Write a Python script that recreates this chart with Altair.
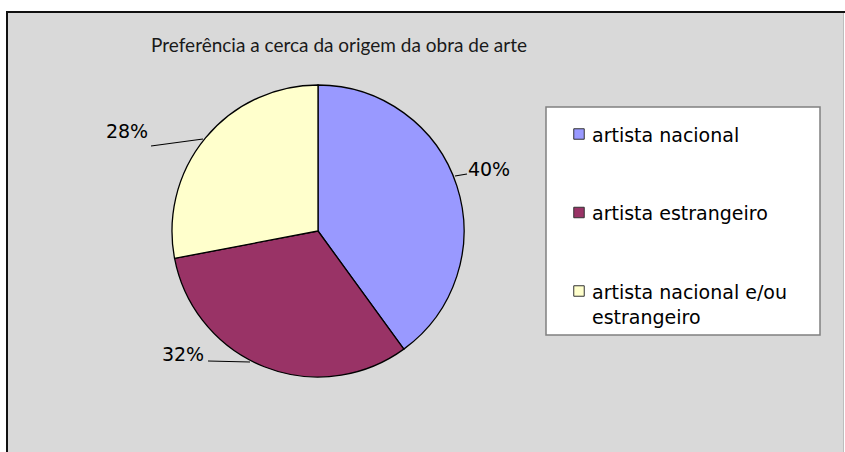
import altair as alt
import pandas as pd

# ---------------- data ----------------
categories = ["artista nacional", "artista estrangeiro", "artista nacional e/ou estrangeiro"]
values = [40, 32, 28]
legend_labels = ["artista nacional", "artista estrangeiro", "artista nacional e/ou\nestrangeiro"]
colors = ["#9999FF", "#993366", "#FFFFCC"]
title_text = "Preferência a cerca da origem da obra de arte"

# ---------------- layout / style ----------------
W, H = 845, 452
CX, CY, R = 318, 231, 146
LABEL_FONT = "DejaVu Sans"
LABEL_SIZE = 19
# per-slice label placement (text centre, leader line start/end) in pixels
label_layout = {
    "artista nacional": dict(tx=489, ty=170, l=(455, 176, 467, 174)),
    "artista estrangeiro": dict(tx=183, ty=355, l=(208, 361, 250, 362)),
    "artista nacional e/ou estrangeiro": dict(tx=127, ty=132, l=(151, 146, 203, 139)),
}

total = sum(values)
df = pd.DataFrame({
    "cat": categories,
    "value": values,
    "legend": legend_labels,
    "order": list(range(len(categories))),
})
df["pct"] = [f"{round(v / total * 100)}%" for v in values]

one = pd.DataFrame({"a": [0]})
color = alt.Color("cat:N", scale=alt.Scale(domain=categories, range=colors), legend=None)

frame = alt.Chart(one).mark_rect(fill="#D9D9D9").encode(
    x=alt.value(7), x2=alt.value(843), y=alt.value(12), y2=alt.value(470))
top_border = alt.Chart(one).mark_rule(color="#111", strokeWidth=2).encode(
    x=alt.value(6), x2=alt.value(845), y=alt.value(12))
left_border = alt.Chart(one).mark_rule(color="#111", strokeWidth=2).encode(
    x=alt.value(7), y=alt.value(11), y2=alt.value(452))
right_border = alt.Chart(one).mark_rule(color="#BDBDBD", strokeWidth=1).encode(
    x=alt.value(843.5), y=alt.value(13), y2=alt.value(452))

title = alt.Chart(one).mark_text(
    font="Lato", fontSize=19, color="#1a1a1a", align="center", baseline="middle"
).encode(x=alt.value(339), y=alt.value(46), text=alt.value(title_text))

pie = alt.Chart(df).mark_arc(outerRadius=R, stroke="#000", strokeWidth=1.3).encode(
    theta=alt.Theta("value:Q", stack=True),
    color=color,
    order=alt.Order("order:Q"),
    x=alt.value(CX), y=alt.value(CY),
)

label_layers = []
for cat in categories:
    lay = label_layout[cat]
    x1, y1, x2, y2 = lay["l"]
    sub = alt.Chart(df).transform_filter(alt.datum.cat == cat)
    label_layers.append(sub.mark_rule(color="#000", strokeWidth=1.2).encode(
        x=alt.value(x1), y=alt.value(y1), x2=alt.value(x2), y2=alt.value(y2)))
    label_layers.append(sub.mark_text(
        font=LABEL_FONT, fontSize=LABEL_SIZE, color="#000", align="center", baseline="middle"
    ).encode(text="pct:N", x=alt.value(lay["tx"]), y=alt.value(lay["ty"])))

legend_box = alt.Chart(one).mark_rect(fill="white", stroke="#808080", strokeWidth=1.5).encode(
    x=alt.value(546), x2=alt.value(820), y=alt.value(107), y2=alt.value(335))

ly = alt.Y("cat:N", scale=alt.Scale(type="point", domain=categories, range=[134, 291], padding=0), axis=None)
legend_sw = alt.Chart(df).mark_square(size=110, stroke="#333", strokeWidth=1, opacity=1).encode(
    x=alt.value(579), y=ly, color=color)
legend_tx = alt.Chart(df).mark_text(
    font=LABEL_FONT, fontSize=LABEL_SIZE, color="#000", align="left", baseline="alphabetic",
    dy=7.5, lineBreak="\n", lineHeight=25
).encode(x=alt.value(592), y=ly, text="legend:N")

chart = alt.layer(
    frame, top_border, left_border, right_border, title, pie, *label_layers,
    legend_box, legend_sw, legend_tx
).properties(
    width=W, height=H, padding=0, autosize=alt.AutoSizeParams(type="none"), background="white"
).configure_view(stroke=None)

chart.save("out.html", embed_options={"renderer": "svg", "actions": False})
